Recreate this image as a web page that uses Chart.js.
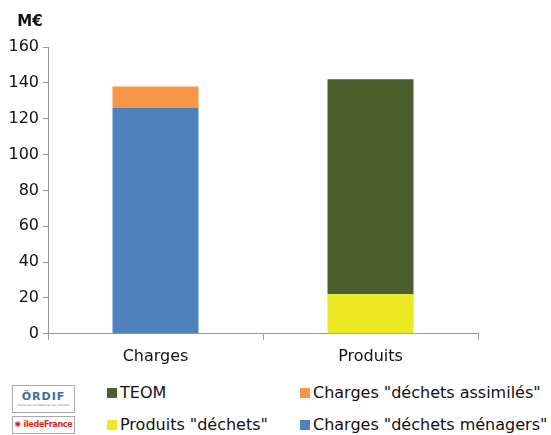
<!DOCTYPE html>
<html>
<head>
<meta charset="utf-8">
<script src="https://cdn.jsdelivr.net/npm/chart.js@4.4.1/dist/chart.umd.min.js"></script>
<style>
  body { margin: 0; background: #fff; font-family: "DejaVu Sans", sans-serif; }
  #wrap { position: relative; width: 551px; height: 435px; }
  #budgetChart { position: absolute; left: 0; top: 0; }
  #legend { position: absolute; left: 0; top: 0; }
  .item { position: absolute; font-size: 16px; color: #111; white-space: nowrap; line-height: 18px; }
  .item span.box { display: inline-block; width: 10px; height: 10px; margin-right: 3px; vertical-align: 0px; }
  .logo { position: absolute; left: 12px; width: 63px; border: 1px solid #aaa; background: #fff; text-align: center; box-sizing: border-box; white-space: nowrap; overflow: hidden; }
</style>
</head>
<body>
<div id="wrap">
  <canvas id="budgetChart" width="551" height="373"></canvas>
  <div id="legend"></div>
  <div class="logo" style="top:385px;height:28px;">
    <div style="font:bold 11px 'DejaVu Sans';color:#3a6ea8;letter-spacing:1px;margin-top:4px;">ÖRDIF</div>
    <div style="font-size:3px;color:#888;">Observatoire Régional des Déchets</div>
  </div>
  <div class="logo" style="top:416px;height:18px;">
    <div style="font:bold 8px 'DejaVu Sans';color:#e2231a;margin-top:3px;letter-spacing:-0.3px;">✱ îledeFrance</div>
  </div>
</div>
<script>
const categories = ['Charges', 'Produits'];
const menagers = [126, null];   // Charges "déchets ménagers"
const assimiles = [12, null];   // Charges "déchets assimilés"
const produits = [null, 22];    // Produits "déchets"
const teom = [null, 120];       // TEOM
const yTicks = [0, 20, 40, 60, 80, 100, 120, 140, 160];

const unitLabel = {
    id: 'unitLabel',
    afterDraw(chart) {
        const c = chart.ctx;
        c.save();
        c.font = 'bold 15px "DejaVu Sans"';
        c.fillStyle = '#111';
        c.textAlign = 'center';
        c.textBaseline = 'middle';
        c.fillText('M€', 30, 22);
        c.restore();
    }
};

const ctx = document.getElementById('budgetChart').getContext('2d');
const budgetChart = new Chart(ctx, {
    type: 'bar',
    data: {
        labels: categories,
        datasets: [
            { label: 'Charges "déchets ménagers"', data: menagers, backgroundColor: '#4F81BD' },
            { label: 'Charges "déchets assimilés"', data: assimiles, backgroundColor: '#F79646' },
            { label: 'Produits "déchets"', data: produits, backgroundColor: '#ECE824' },
            { label: 'TEOM', data: teom, backgroundColor: '#4B5F2D' }
        ]
    },
    options: {
        responsive: false,
        animation: false,
        categoryPercentage: 0.4,
        barPercentage: 1,
        layout: { padding: { top: 47, right: 73, left: 0, bottom: 0 } },
        plugins: {
            legend: { display: false },
            tooltip: { enabled: false }
        },
        scales: {
            x: {
                stacked: true,
                border: { color: '#999' },
                grid: { drawOnChartArea: false, tickLength: 6, color: '#999' },
                ticks: { color: '#111', font: { family: 'DejaVu Sans', size: 16 }, padding: 7 }
            },
            y: {
                stacked: true,
                min: 0,
                max: 160,
                afterFit(scale) { scale.width = 48; },
                afterBuildTicks(scale) { scale.ticks = yTicks.map(v => ({ value: v })); },
                border: { color: '#999' },
                grid: { drawOnChartArea: false, tickLength: 5, color: '#999' },
                ticks: { color: '#111', font: { family: 'DejaVu Sans', size: 16 }, padding: 4 }
            }
        }
    },
    plugins: [unitLabel]
});

// two-column legend under the chart
const legendOrder = [3, 1, 2, 0];
const legendPos = [[107, 384], [300, 384], [107, 416], [300, 416]];
const legendEl = document.getElementById('legend');
legendOrder.forEach((di, i) => {
    const ds = budgetChart.data.datasets[di];
    const el = document.createElement('div');
    el.className = 'item';
    el.style.left = legendPos[i][0] + 'px';
    el.style.top = legendPos[i][1] + 'px';
    el.innerHTML = '<span class="box" style="background:' + ds.backgroundColor + '"></span>' + ds.label;
    legendEl.appendChild(el);
});
</script>
</body>
</html>
